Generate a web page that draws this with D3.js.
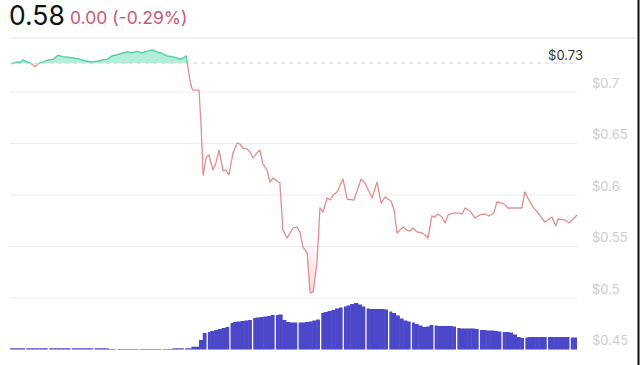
<!DOCTYPE html>
<html>
<head>
<meta charset="utf-8">
<script src="https://cdn.jsdelivr.net/npm/d3@7"></script>
<style>
  html, body { margin: 0; padding: 0; background: #fff; }
  svg { display: block; font-family: Inter, "Open Sans", sans-serif; }
</style>
</head>
<body>
<svg id="chart" width="640" height="365"></svg>
<script>
// ---- data ----
const lastPrice = "0.58";
const changeText = "0.00 (-0.29%)";
const prevClose = 0.728;
const priceTicks = [0.45, 0.5, 0.55, 0.6, 0.65, 0.7];

// minutes since start of window
const times = [5,19,26,34,45,53,66,74,87,101,114,127,140,153,167,180,198,217,230,243,257,270,283,296,310,323,336,349,362,376,389,402,415,429,442,450,458,466,471,476,481,484,500,505,511,519,526,537,545,553,564,571,579,590,601,608,616,627,635,643,653,661,669,680,688,696,706,714,722,733,741,749,759,767,775,786,794,802,812,820,828,839,847,855,865,881,892,910,929,939,958,971,982,992,1008,1016,1024,1032,1040,1050,1058,1066,1077,1090,1098,1106,1116,1124,1132,1143,1151,1159,1172,1190,1196,1204,1217,1230,1243,1257,1267,1280,1288,1302,1310,1317,1354,1362,1370,1384,1397,1415,1434,1444,1450,1468,1479,1495,1500];
const prices = [0.7272,0.7291,0.7284,0.7311,0.7291,0.7284,0.7246,0.7272,0.7291,0.7311,0.7317,0.7356,0.7343,0.7337,0.7330,0.7323,0.7304,0.7291,0.7298,0.7311,0.7317,0.7350,0.7362,0.7376,0.7388,0.7381,0.7395,0.7381,0.7395,0.7408,0.7388,0.7376,0.7350,0.7343,0.7330,0.7317,0.7330,0.7350,0.7233,0.7117,0.7039,0.7019,0.7019,0.6709,0.6194,0.6369,0.6388,0.6243,0.6311,0.6437,0.6233,0.6243,0.6194,0.6408,0.6505,0.6495,0.6456,0.6447,0.6417,0.6359,0.6408,0.6437,0.6301,0.6243,0.6126,0.6165,0.6136,0.6117,0.5660,0.5583,0.5631,0.5680,0.5689,0.5641,0.5495,0.5437,0.5049,0.5058,0.5340,0.5874,0.5835,0.5971,0.5951,0.6000,0.6029,0.6155,0.5961,0.5951,0.6155,0.6117,0.5971,0.6126,0.5922,0.5981,0.5942,0.5854,0.5631,0.5660,0.5689,0.5660,0.5650,0.5680,0.5641,0.5631,0.5612,0.5583,0.5796,0.5786,0.5816,0.5786,0.5728,0.5806,0.5825,0.5825,0.5816,0.5874,0.5845,0.5777,0.5806,0.5816,0.5796,0.5825,0.5932,0.5922,0.5903,0.5874,0.5874,0.6029,0.5971,0.5883,0.5825,0.5738,0.5786,0.5699,0.5767,0.5757,0.5728,0.5786,0.5806];

// volume per 10-minute interval (arbitrary units)
const volumes = [
  12,12,12,12,12,12,12,12,12,12,12,12,12,12,12,12,12,12,12,12,12,12,12,12,12,12,
  5,5,5,5,5,5,5,5,5,5,5,5,5,5,5,5,5,
  12,12,12,12,12,28,28,95,165,
  175,185,195,205,215,225,
  265,275,280,285,290,295,
  315,320,325,330,335,345,
  345,350,295,275,270,270,
  270,270,275,280,290,300,
  365,375,385,395,410,420,
  430,440,455,465,450,430,
  410,405,405,405,405,400,
  380,365,340,310,290,280,
  270,255,240,225,230,245,
  240,235,235,235,235,230,
  215,210,210,210,210,205,
  195,195,190,190,185,180,
  175,175,170,150,125,115,
  120,125,125,125,125,125,
  125,125,125,125,125,125,
  120,120
];
const volInterval = 10; // minutes per volume bar
const hourBars = 6;

// ---- layout ----
const svg = d3.select("#chart");
const W = 640, H = 365;
const x = d3.scaleLinear().domain([0, 1500]).range([10, 577]);
const y = d3.scaleLinear().domain([0.45, 0.7]).range([349.5, 92]);
const yVol = d3.scaleLinear().domain([0, 470]).range([349.5, 302.5]);

const data = times.map((t, i) => ({t, p: prices[i]}));
const baseY = y(prevClose);

// header
svg.append("text").attr("x", 9).attr("y", 25)
  .attr("font-size", 26.5).attr("fill", "#111").text(lastPrice);
svg.append("text").attr("x", 70).attr("y", 24)
  .attr("font-size", 17.5).attr("fill", "#c85a72").text(changeText);
svg.append("line").attr("x1", 10).attr("x2", 637).attr("y1", 38).attr("y2", 38)
  .attr("stroke", "#ececec").attr("stroke-width", 1.5);

// gridlines
svg.append("g").selectAll("line")
  .data(priceTicks.filter(v => v > 0.45))
  .join("line")
  .attr("x1", x.range()[0]).attr("x2", x.range()[1])
  .attr("y1", d => y(d)).attr("y2", d => y(d))
  .attr("stroke", "#ebebeb").attr("stroke-width", 1);

// y labels
svg.append("g").selectAll("text")
  .data(priceTicks).join("text")
  .attr("x", 592).attr("y", d => y(d) - 8)
  .attr("dominant-baseline", "middle")
  .attr("font-size", 13).attr("fill", "#cdcdcd")
  .text(d => "$" + (+d.toFixed(2)));

// volume bars (tiny overlap to avoid seams; white gap at each hour start)
const isHourStart = i => (i - 4) % hourBars === 0;
svg.append("g").selectAll("rect")
  .data(volumes).join("rect")
  .attr("x", (v, i) => x(i * volInterval) + (isHourStart(i) ? 1.3 : 0))
  .attr("width", (v, i) => x((i + 1) * volInterval) - x(i * volInterval)
        - (isHourStart(i) ? 1.3 : 0) + (isHourStart(i + 1) || i === volumes.length - 1 ? 0 : 0.5))
  .attr("y", v => yVol(v))
  .attr("height", v => yVol(0) - yVol(v))
  .attr("fill", "#4b47c9");

// clip paths
const defs = svg.append("defs");
defs.append("clipPath").attr("id", "above")
  .append("rect").attr("x", 0).attr("y", 0).attr("width", W).attr("height", baseY);
defs.append("clipPath").attr("id", "below")
  .append("rect").attr("x", 0).attr("y", baseY).attr("width", W).attr("height", H - baseY);
const grad = defs.append("linearGradient").attr("id", "redGrad")
  .attr("gradientUnits", "userSpaceOnUse")
  .attr("x1", 0).attr("x2", 0).attr("y1", y(0.56)).attr("y2", y(0.5));
grad.append("stop").attr("offset", 0).attr("stop-color", "#f2a0a0").attr("stop-opacity", 0);
grad.append("stop").attr("offset", 1).attr("stop-color", "#f2a0a0").attr("stop-opacity", 0.45);

const area = d3.area().x(d => x(d.t)).y0(baseY).y1(d => y(d.p));
const line = d3.line().x(d => x(d.t)).y(d => y(d.p));

svg.append("path").datum(data).attr("d", area)
  .attr("fill", "#b3efd7").attr("clip-path", "url(#above)");
svg.append("path").datum(data).attr("d", area)
  .attr("fill", "url(#redGrad)").attr("clip-path", "url(#below)");

// baseline dashed
svg.append("line").attr("x1", x.range()[0]).attr("x2", x.range()[1])
  .attr("y1", baseY).attr("y2", baseY)
  .attr("stroke", "#cfcfcf").attr("stroke-width", 1).attr("stroke-dasharray", "3,5");
svg.append("text").attr("x", 583).attr("y", baseY - 7)
  .attr("text-anchor", "end").attr("dominant-baseline", "middle")
  .attr("font-size", 13).attr("fill", "#333")
  .text("$" + prevClose.toFixed(2));

svg.append("path").datum(data).attr("d", line)
  .attr("fill", "none").attr("stroke", "#55d0a2").attr("stroke-width", 1.4)
  .attr("stroke-linejoin", "round").attr("clip-path", "url(#above)");
svg.append("path").datum(data).attr("d", line)
  .attr("fill", "none").attr("stroke", "#e38d8d").attr("stroke-width", 1.3)
  .attr("stroke-linejoin", "round").attr("clip-path", "url(#below)");

// right frame edge
svg.append("line").attr("x1", 638.5).attr("x2", 638.5).attr("y1", 0).attr("y2", H)
  .attr("stroke", "#111").attr("stroke-width", 2);
</script>
</body>
</html>
